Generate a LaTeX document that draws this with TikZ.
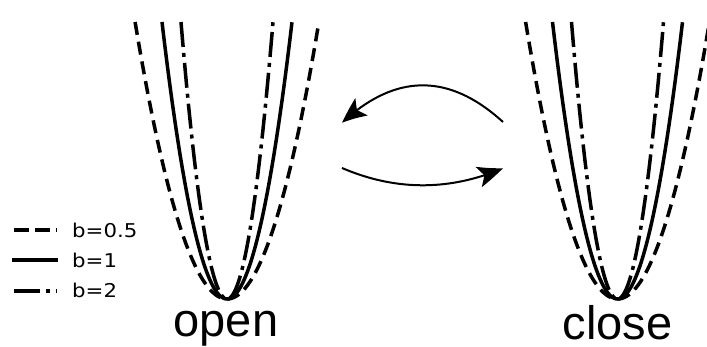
\documentclass[tikz,border=0pt]{standalone}
\usepackage{fontspec}
\setmainfont{Liberation Sans}
\newfontfamily\legendfont{DejaVu Sans}
\usetikzlibrary{arrows.meta,bending}

\begin{document}
\begin{tikzpicture}[x=1pt,y=-1pt,
  curve/.style={line width=3.5pt},
  dashedb/.style={curve, dash pattern=on 13pt off 7pt},
  solidb/.style={curve},
  dashdotb/.style={curve, dash pattern=on 25pt off 6pt on 4pt off 6pt},
  legline/.style={line width=4pt},
  legtext/.style={anchor=base west, inner sep=0pt, xscale=1.12,
    font=\legendfont\fontsize{19}{22}\selectfont},
  statelabel/.style={anchor=base, inner sep=0pt, text depth=0pt,
    font=\fontsize{47}{52}\selectfont},
  flow/.style={line width=2pt,
    -{Stealth[length=26pt,width=21pt,inset=6pt,bend]}}
]
\useasboundingbox (0,0) rectangle (707,347);

% potential wells y = b x^2 for b = 0.5, 1, 2
\foreach \cx in {227,617.5} {
  \draw[dashedb, domain=-1:1, samples=81, smooth]
    plot ({\cx+91.9*\x}, {299-277*\x*\x});
  \draw[solidb, domain=-1:1, samples=81, smooth]
    plot ({\cx+65*\x}, {299-277*\x*\x});
  \draw[dashdotb, domain=-1:1, samples=81, smooth]
    plot ({\cx+46*\x}, {299-277*\x*\x});
}

% state labels
\node[statelabel] (open) at (226,336.5) {open};
\node[statelabel] (close) at (617.5,340) {close};

% transitions between the two states
\coordinate (closeIn)  at (342,122.7);
\coordinate (closeOut) at (503,122);
\coordinate (openOut)  at (342,168);
\coordinate (openIn)   at (503,168.3);
\draw[flow] (closeOut) .. controls (449.3,73) and (395.7,73) .. (closeIn);
\draw[flow] (openOut) .. controls (395.7,191) and (449.3,191) .. (openIn);

% legend
\draw[legline, dash pattern=on 15pt off 6pt] (14,230.5) -- (57,230.5);
\draw[legline] (12,260.5) -- (58,260.5);
\draw[legline, dash pattern=on 26pt off 6pt on 4pt off 6pt] (14,291.5) -- (57,291.5);
\node[legtext] (l1) at (72,237.3) {b=0.5};
\node[legtext] (l2) at (72,267.3) {b=1};
\node[legtext] (l3) at (72,298) {b=2};
\end{tikzpicture}
\end{document}
